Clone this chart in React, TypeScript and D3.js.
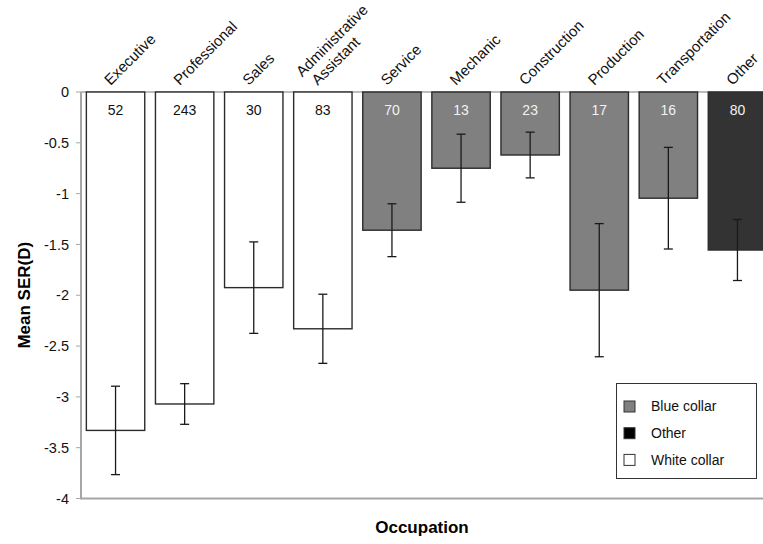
import React, { useEffect, useRef } from "react";
import * as d3 from "d3";

const occupations = [
  "Executive",
  "Professional",
  "Sales",
  "Administrative Assistant",
  "Service",
  "Mechanic",
  "Construction",
  "Production",
  "Transportation",
  "Other",
];
const meanSER = [-3.33, -3.07, -1.925, -2.33, -1.36, -0.75, -0.62, -1.95, -1.045, -1.555];
const errHalf = [0.435, 0.2, 0.45, 0.34, 0.26, 0.335, 0.225, 0.655, 0.5, 0.3];
const counts = [52, 243, 30, 83, 70, 13, 23, 17, 16, 80];
const groups = ["white", "white", "white", "white", "blue", "blue", "blue", "blue", "blue", "other"];
const yTicks = [0, -0.5, -1, -1.5, -2, -2.5, -3, -3.5, -4];
const legendItems = [
  { key: "blue", label: "Blue collar" },
  { key: "other", label: "Other" },
  { key: "white", label: "White collar" },
];

const W = 763;
const H = 544;
const FONT = "'Liberation Sans', Arial, sans-serif";

export default function App() {
  const ref = useRef<SVGSVGElement>(null);

  useEffect(() => {
    const svg = d3.select(ref.current);
    svg.selectAll("*").remove();

    const left = 81;
    const top = 92;
    const bottom = 498.5;

    const x = d3.scaleBand().domain(occupations).range([left, 772]).paddingInner(0.155).paddingOuter(0.0775);
    const y = d3.scaleLinear().domain([0, -4]).range([top, bottom]);

    const fill = d3.scaleOrdinal<string>().domain(["white", "blue", "other"]).range(["#ffffff", "#808080", "#333333"]);
    const legendFill = d3.scaleOrdinal<string>().domain(["white", "blue", "other"]).range(["#ffffff", "#808080", "#000000"]);
    const textFill = d3.scaleOrdinal<string>().domain(["white", "blue", "other"]).range(["#111111", "#f2f2f2", "#f2f2f2"]);

    const data = occupations.map((o, i) => ({
      name: o,
      v: meanSER[i],
      e: errHalf[i],
      n: counts[i],
      g: groups[i],
    }));

    // category axis line at zero
    svg.append("line")
      .attr("x1", left).attr("x2", W)
      .attr("y1", y(0)).attr("y2", y(0))
      .attr("stroke", "#bdbdbd").attr("stroke-width", 2);

    // bars
    svg.append("g")
      .selectAll("rect")
      .data(data)
      .join("rect")
      .attr("x", (d) => x(d.name)!)
      .attr("y", y(0))
      .attr("width", x.bandwidth())
      .attr("height", (d) => y(d.v) - y(0))
      .attr("fill", (d) => fill(d.g))
      .attr("stroke", "#2b2b2b")
      .attr("stroke-width", 1.4);

    // counts
    svg.append("g")
      .selectAll("text")
      .data(data)
      .join("text")
      .attr("x", (d) => x(d.name)! + x.bandwidth() / 2)
      .attr("y", 115)
      .attr("text-anchor", "middle")
      .attr("font-family", FONT)
      .attr("font-size", 14)
      .attr("fill", (d) => textFill(d.g))
      .text((d) => d.n);

    // error bars
    const eb = svg.append("g").attr("stroke", "#1a1a1a").attr("stroke-width", 1.3);
    data.forEach((d) => {
      const cx = x(d.name)! + x.bandwidth() / 2;
      const y1 = y(d.v + d.e);
      const y2 = y(d.v - d.e);
      eb.append("line").attr("x1", cx).attr("x2", cx).attr("y1", y1).attr("y2", y2);
      eb.append("line").attr("x1", cx - 4.5).attr("x2", cx + 4.5).attr("y1", y1).attr("y2", y1);
      eb.append("line").attr("x1", cx - 4.5).attr("x2", cx + 4.5).attr("y1", y2).attr("y2", y2);
    });

    // y axis
    svg.append("line")
      .attr("x1", left).attr("x2", left)
      .attr("y1", top).attr("y2", bottom)
      .attr("stroke", "#a6a6a6").attr("stroke-width", 2);
    svg.append("line")
      .attr("x1", left - 1).attr("x2", W)
      .attr("y1", bottom).attr("y2", bottom)
      .attr("stroke", "#a6a6a6").attr("stroke-width", 2);

    const yt = svg.append("g");
    yt.selectAll("line")
      .data(yTicks)
      .join("line")
      .attr("x1", left - 5).attr("x2", left)
      .attr("y1", (d) => y(d)).attr("y2", (d) => y(d))
      .attr("stroke", "#a6a6a6").attr("stroke-width", 1);
    yt.selectAll("text")
      .data(yTicks)
      .join("text")
      .attr("x", 69)
      .attr("y", (d) => y(d))
      .attr("dy", "0.35em")
      .attr("text-anchor", "end")
      .attr("font-family", FONT)
      .attr("font-size", 14.5)
      .attr("fill", "#111")
      .text((d) => String(d));

    // category labels, rotated
    const lab = svg.append("g")
      .attr("font-family", FONT)
      .attr("font-size", 15)
      .attr("fill", "#111");
    data.forEach((d) => {
      const cx = x(d.name)! + x.bandwidth() / 2;
      const g = lab.append("g").attr("transform", `translate(${cx - 5},${86}) rotate(-45)`);
      if (d.name === "Administrative Assistant") {
        g.append("text").attr("x", 0).attr("y", 0).text("Assistant");
        g.append("text").attr("x", -5).attr("y", -17).text("Administrative");
      } else {
        g.append("text").attr("x", 0).attr("y", 0).text(d.name);
      }
    });

    // axis titles
    svg.append("text")
      .attr("transform", `translate(30,${(top + bottom) / 2}) rotate(-90)`)
      .attr("text-anchor", "middle")
      .attr("font-family", FONT)
      .attr("font-size", 17)
      .attr("font-weight", "bold")
      .attr("fill", "#000")
      .text("Mean SER(D)");
    svg.append("text")
      .attr("x", (left + W) / 2)
      .attr("y", 533)
      .attr("text-anchor", "middle")
      .attr("font-family", FONT)
      .attr("font-size", 17)
      .attr("font-weight", "bold")
      .attr("fill", "#000")
      .text("Occupation");

    // legend
    const lg = svg.append("g");
    lg.append("rect")
      .attr("x", 616.5).attr("y", 383.5)
      .attr("width", 140).attr("height", 95)
      .attr("fill", "#fff")
      .attr("stroke", "#333").attr("stroke-width", 1);
    const rows = lg.selectAll("g.row")
      .data(legendItems)
      .join("g")
      .attr("class", "row")
      .attr("transform", (_d, i) => `translate(0,${406.5 + i * 26.7})`);
    rows.append("rect")
      .attr("x", 624).attr("y", -5.5)
      .attr("width", 11).attr("height", 11)
      .attr("fill", (d) => legendFill(d.key))
      .attr("stroke", "#333").attr("stroke-width", 1);
    rows.append("text")
      .attr("x", 651)
      .attr("dy", "0.35em")
      .attr("font-family", FONT)
      .attr("font-size", 14)
      .attr("fill", "#111")
      .text((d) => d.label);
  }, []);

  return (
    <div style={{ position: "absolute", left: 0, top: 0 }}>
      <svg ref={ref} width={W} height={H} style={{ display: "block", background: "#fff" }} />
    </div>
  );
}
